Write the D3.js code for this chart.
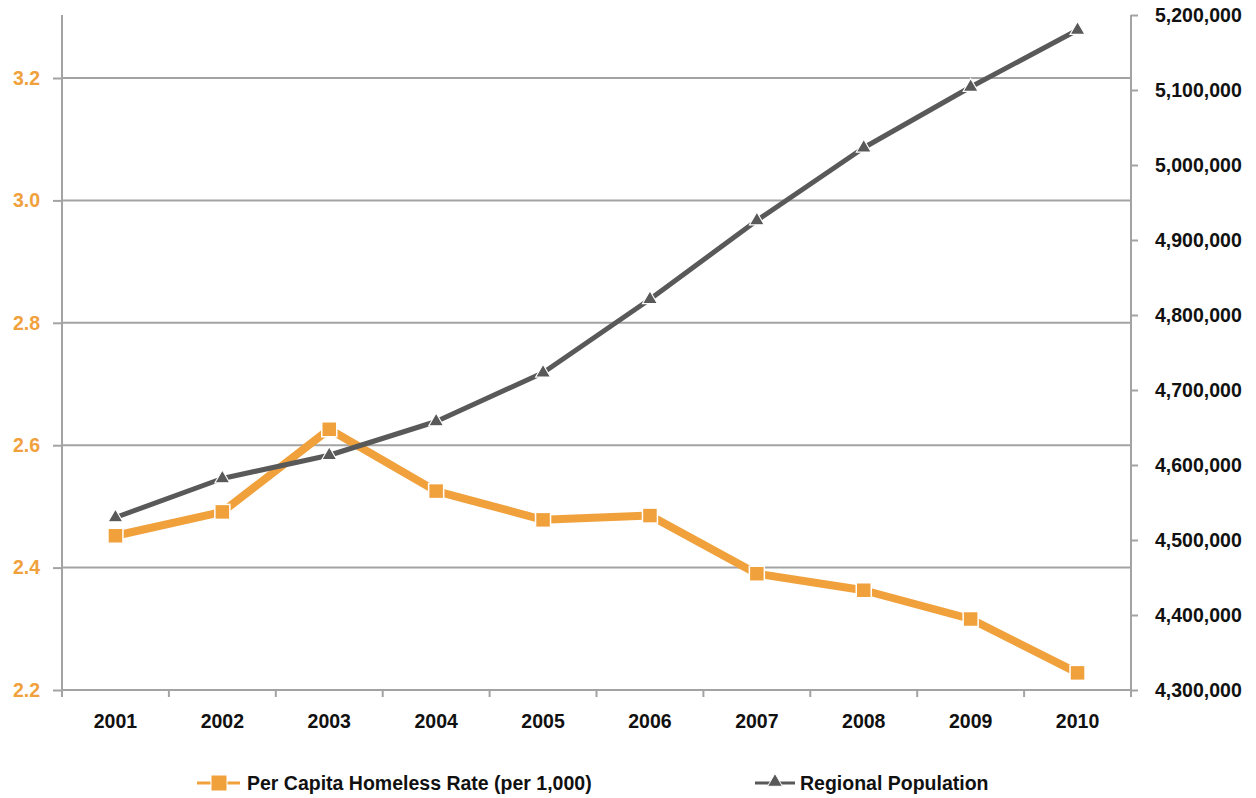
<!DOCTYPE html>
<html>
<head>
<meta charset="utf-8">
<script src="https://cdn.jsdelivr.net/npm/d3@7"></script>
<style>
  html, body { margin: 0; padding: 0; background: #fff; }
  svg { display: block; }
  text { font-family: "Liberation Sans", Arial, sans-serif; font-weight: bold; }
</style>
</head>
<body>
<svg id="chart" width="1256" height="798"></svg>
<script>
// ---- data ----
const years = ["2001","2002","2003","2004","2005","2006","2007","2008","2009","2010"];
const homelessRate = [2.452, 2.491, 2.626, 2.525, 2.478, 2.485, 2.390, 2.363, 2.316, 2.228];
const population = [4530000, 4582000, 4613000, 4658000, 4723000, 4821000, 4926000, 5023000, 5104000, 5180000];
const leftTicks = [2.2, 2.4, 2.6, 2.8, 3.0, 3.2];
const rightTicks = [4300000, 4400000, 4500000, 4600000, 4700000, 4800000, 4900000, 5000000, 5100000, 5200000];
const seriesNames = ["Per Capita Homeless Rate (per 1,000)", "Regional Population"];

// ---- layout ----
const L = 62, R = 1131, T = 15, B = 690;
const ORANGE = "#F0A13C", GRAY = "#595959", AXIS = "#A3A3A3";
const FS = "19.5px";

const svg = d3.select("#chart");
const x = d3.scaleBand().domain(years).range([L, R]).padding(0);
const yL = d3.scaleLinear().domain([2.2, 3.2]).range([B, 78]);
const yR = d3.scaleLinear().domain([4300000, 5200000]).range([B, T]);
const cx = d => x(d) + x.bandwidth() / 2;

// gridlines
svg.append("g").selectAll("line").data(leftTicks.filter(t => t > 2.2)).join("line")
  .attr("x1", L).attr("x2", R)
  .attr("y1", d => yL(d)).attr("y2", d => yL(d))
  .attr("stroke", AXIS).attr("stroke-width", 2);

// left axis
const gL = svg.append("g").attr("transform", `translate(${L},0)`)
  .call(d3.axisLeft(yL).tickValues(leftTicks).tickFormat(d3.format(".1f")).tickSize(9).tickSizeOuter(0).tickPadding(13));
gL.select(".domain").remove();
gL.selectAll(".tick line").attr("stroke", AXIS).attr("stroke-width", 2);
gL.selectAll(".tick text").attr("fill", ORANGE).style("font-size", FS);
svg.append("line").attr("x1", L).attr("x2", L).attr("y1", T).attr("y2", B + 7)
  .attr("stroke", AXIS).attr("stroke-width", 2);

// right axis
const gR = svg.append("g").attr("transform", `translate(${R},0)`)
  .call(d3.axisRight(yR).tickValues(rightTicks).tickFormat(d3.format(",")).tickSize(7).tickSizeOuter(0).tickPadding(17));
gR.select(".domain").remove();
gR.selectAll(".tick line").attr("stroke", AXIS).attr("stroke-width", 2);
gR.selectAll(".tick text").attr("fill", "#111").style("font-size", FS);
svg.append("line").attr("x1", R).attr("x2", R).attr("y1", T).attr("y2", B + 7)
  .attr("stroke", AXIS).attr("stroke-width", 2);

// x axis
svg.append("line").attr("x1", L).attr("x2", R).attr("y1", B).attr("y2", B)
  .attr("stroke", AXIS).attr("stroke-width", 2);
const bounds = years.map(d => x(d)).concat([R]);
svg.append("g").selectAll("line").data(bounds).join("line")
  .attr("x1", d => d).attr("x2", d => d).attr("y1", B).attr("y2", B + 7)
  .attr("stroke", AXIS).attr("stroke-width", 2);
svg.append("g").selectAll("text").data(years).join("text")
  .attr("x", d => cx(d)).attr("y", B + 38)
  .attr("text-anchor", "middle").attr("fill", "#111").style("font-size", FS)
  .text(d => d);

// orange series
const lineL = d3.line().x((d, i) => cx(years[i])).y(d => yL(d));
svg.append("path").datum(homelessRate).attr("d", lineL)
  .attr("fill", "none").attr("stroke", ORANGE).attr("stroke-width", 8).attr("stroke-linejoin", "round");
svg.append("g").selectAll("rect").data(homelessRate).join("rect")
  .attr("x", (d, i) => cx(years[i]) - 7.5).attr("y", d => yL(d) - 7.5)
  .attr("width", 15).attr("height", 15)
  .attr("fill", ORANGE).attr("stroke", "#fff").attr("stroke-width", 1.5);

// gray series
const lineR = d3.line().x((d, i) => cx(years[i])).y(d => yR(d));
svg.append("path").datum(population).attr("d", lineR)
  .attr("fill", "none").attr("stroke", GRAY).attr("stroke-width", 5).attr("stroke-linejoin", "round");
const tri = d3.symbol().type(d3.symbolTriangle).size(95);
svg.append("g").selectAll("path").data(population).join("path")
  .attr("transform", (d, i) => `translate(${cx(years[i])},${yR(d)})`)
  .attr("d", tri)
  .attr("fill", GRAY).attr("stroke", "#fff").attr("stroke-width", 1.2);

// legend
const LY = 783;
const lg = svg.append("g");
lg.append("line").attr("x1", 197).attr("x2", 240).attr("y1", LY).attr("y2", LY)
  .attr("stroke", ORANGE).attr("stroke-width", 3);
lg.append("rect").attr("x", 211).attr("y", LY - 8).attr("width", 16).attr("height", 16)
  .attr("fill", ORANGE).attr("stroke", "#fff").attr("stroke-width", 1);
lg.append("text").attr("x", 247).attr("y", LY + 7).attr("fill", "#111").style("font-size", FS)
  .text(seriesNames[0]);
lg.append("line").attr("x1", 755).attr("x2", 795).attr("y1", LY).attr("y2", LY)
  .attr("stroke", GRAY).attr("stroke-width", 3);
lg.append("path").attr("transform", `translate(775,${LY - 1})`).attr("d", tri)
  .attr("fill", GRAY).attr("stroke", "#fff").attr("stroke-width", 1);
lg.append("text").attr("x", 800).attr("y", LY + 7).attr("fill", "#111").style("font-size", FS)
  .text(seriesNames[1]);
</script>
</body>
</html>
